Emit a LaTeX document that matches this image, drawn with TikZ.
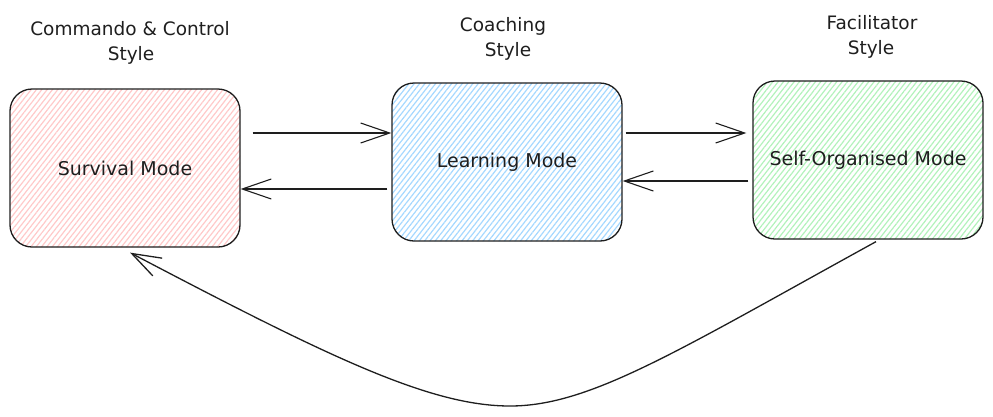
\documentclass[tikz,border=0pt]{standalone}
\usepackage{fontspec}
\setmainfont{DejaVu Sans}
\usetikzlibrary{arrows.meta,patterns.meta,calc}
\definecolor{ink}{HTML}{1E1E1E}
\definecolor{redfill}{HTML}{FFC9C9}
\definecolor{bluefill}{HTML}{A5D8FF}
\definecolor{greenfill}{HTML}{B2F2BB}

\begin{document}
\begin{tikzpicture}[x=1pt,y=-1pt,
  modebox/.style={draw=ink, line width=1.3pt, rounded corners=22pt,
    minimum width=230pt, minimum height=158pt, inner sep=0pt,
    font=\fontsize{19}{23}\selectfont, text=ink},
  hatch/.style={pattern={Lines[angle=52,distance=4.2pt,line width=1.2pt]},
    pattern color=#1},
  heading/.style={font=\fontsize{18.5}{22}\selectfont, text=ink,
    anchor=base, inner sep=0pt},
  conn/.style={draw=ink, line width=1.1pt,
    -{Straight Barb[length=29pt,width=20pt]}}
]
\useasboundingbox (0,0) rectangle (993,416);

% the three modes
\node[modebox, hatch=redfill]   (surv)  at (125,168) {Survival Mode};
\node[modebox, hatch=bluefill]  (learn) at (507,162) {Learning Mode};
\node[modebox, hatch=greenfill] (self)  at (868,160) {Self-Organised Mode};

% leadership style headings
\node[heading] (ccA) at (130,35) {Commando \& Control};
\node[heading] (ccB) at (131,60) {Style};
\node[heading] (coA) at (503,31) {Coaching};
\node[heading] (coB) at (508,56) {Style};
\node[heading] (faA) at (872,29.5) {Facilitator};
\node[heading] (faB) at (871,54) {Style};

% transitions between neighbouring modes
\draw[conn] ([shift={(12,-35)}]surv.east) -- ([shift={(0,-29)}]learn.west);
\draw[conn] ([shift={(-4,27)}]learn.west) -- ([shift={(0,21)}]surv.east);
\draw[conn] ([shift={(3,-29)}]learn.east) -- ([shift={(-6,-27)}]self.west);
\draw[conn] ([shift={(-4,21)}]self.west) -- ([shift={(0,19)}]learn.east);

% fall back from self-organised straight to survival
\coordinate (dip) at (510,406);
\draw[conn, line width=1.3pt] ([shift={(8,2)}]self.south)
  .. controls +(-200,110) and +(80,0) .. (dip)
  .. controls +(-80,0) and +(200,105) .. ([shift={(5,5)}]surv.south);
\end{tikzpicture}
\end{document}
